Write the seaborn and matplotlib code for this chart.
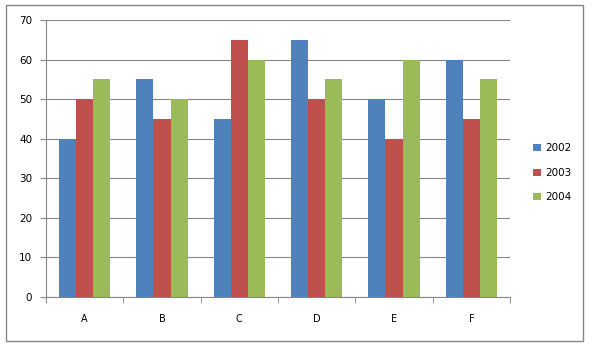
import matplotlib
matplotlib.use("Agg")
import numpy as np
import pandas as pd
import matplotlib.pyplot as plt
import seaborn as sns
from matplotlib.patches import Rectangle

categories = ["A", "B", "C", "D", "E", "F"]
years = ["2002", "2003", "2004"]
v2002 = [40, 55, 45, 65, 50, 60]
v2003 = [50, 45, 65, 50, 40, 45]
v2004 = [55, 50, 60, 55, 60, 55]
colors = ["#4F81BD", "#C0504D", "#9BBB59"]

df = pd.DataFrame({
    "cat": categories * 3,
    "year": [y for y in years for _ in categories],
    "value": v2002 + v2003 + v2004,
})

sns.set_style("white")
plt.rcParams["font.family"] = ["DejaVu Sans"]
plt.rcParams["text.color"] = "black"
plt.rcParams["xtick.labelcolor"] = "black"
plt.rcParams["ytick.labelcolor"] = "black"

fig = plt.figure(figsize=(6.04, 3.51), dpi=100)
ax = fig.add_axes([46 / 604, 1 - 297 / 351, (510 - 46) / 604, (297 - 20) / 351])

sns.barplot(data=df, x="cat", y="value", hue="year", palette=colors,
            width=0.66, saturation=1, ax=ax, edgecolor="none")

ax.set_ylim(0, 70)
ax.set_yticks(range(0, 71, 10))
ax.set_xlim(-0.5, 5.5)
ax.yaxis.grid(True, color="#868686", lw=0.8)
ax.set_axisbelow(True)
for s in ["top", "right"]:
    ax.spines[s].set_visible(False)
for s in ["left", "bottom"]:
    ax.spines[s].set_color("#868686")
ax.set_xlabel("")
ax.set_ylabel("")
ax.tick_params(axis="y", length=4, color="#868686", labelsize=7.5, pad=6, left=True)
ax.tick_params(axis="x", which="major", length=0, labelsize=7, pad=12)
ax.set_xticks(np.arange(-0.5, 6, 1), minor=True)
ax.tick_params(axis="x", which="minor", length=4, color="#868686", bottom=True)

ax.legend(loc="center left", bbox_to_anchor=(1.03, 0.448), frameon=False,
          fontsize=7.5, handlelength=0.7, handleheight=0.7, labelspacing=1.4,
          handletextpad=0.4)

fig.patches.append(Rectangle((6 / 604, 1 - 341 / 351), 577 / 604, 336 / 351,
                             transform=fig.transFigure, fill=False,
                             edgecolor="#868686", lw=1))

fig.savefig("out.png", dpi=100)
